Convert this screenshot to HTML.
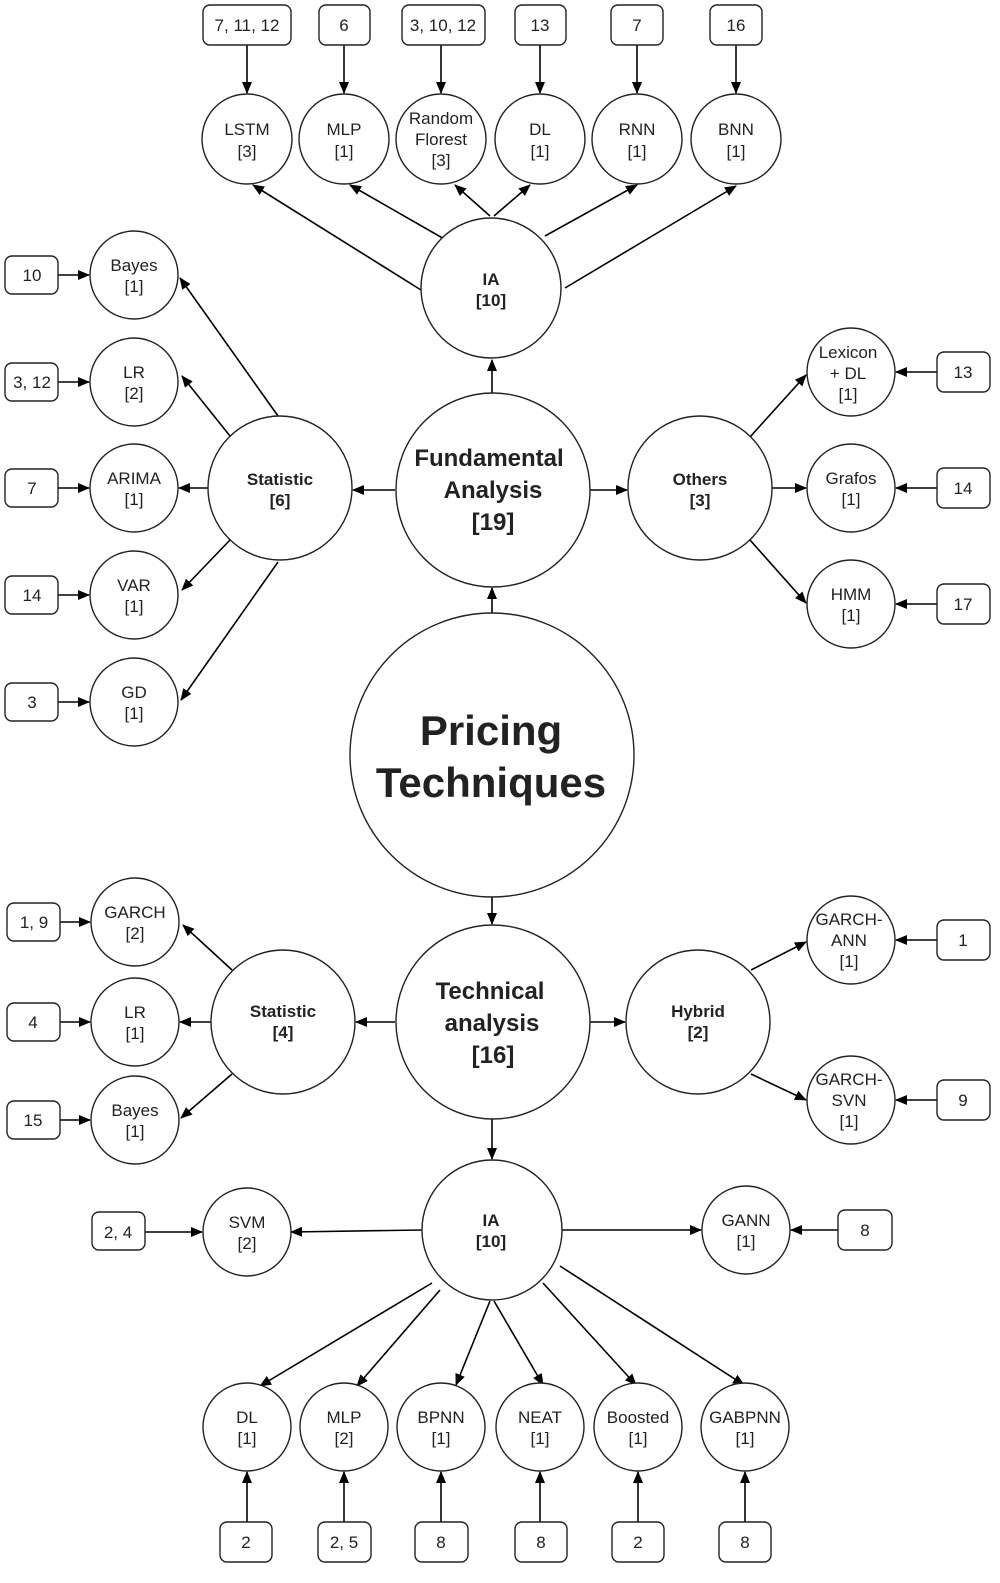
<!DOCTYPE html>
<html><head><meta charset="utf-8"><style>
html,body{margin:0;padding:0;background:#fff}
svg{display:block}
text{font-family:"Liberation Sans",sans-serif;fill:#222;text-anchor:middle}
.s{font-size:17px}
.b{font-size:17px;font-weight:bold}
</style></head><body>
<svg width="1000" height="1583" viewBox="0 0 1000 1583" xmlns="http://www.w3.org/2000/svg">
<defs><marker id="a" markerWidth="12" markerHeight="10" refX="11" refY="5" orient="auto" markerUnits="userSpaceOnUse"><path d="M0,0 L12,5 L0,10 Z" fill="#000"/></marker></defs>
<g stroke="#000" stroke-width="1.6" fill="none" marker-end="url(#a)">
<!-- top boxes to circles -->
<line x1="247" y1="45" x2="247" y2="93"/><line x1="344" y1="45" x2="344" y2="93"/><line x1="441" y1="45" x2="441" y2="93"/><line x1="540" y1="45" x2="540" y2="93"/><line x1="637" y1="45" x2="637" y2="93"/><line x1="736" y1="45" x2="736" y2="93"/>
<!-- IA top to circles -->
<line x1="421" y1="290" x2="253" y2="185"/><line x1="446" y1="240" x2="350" y2="185"/><line x1="490" y1="216" x2="455" y2="185"/><line x1="494" y1="216" x2="530" y2="185"/><line x1="545" y1="236" x2="637" y2="185"/><line x1="565" y1="288" x2="736" y2="186"/>
<line x1="492" y1="393" x2="492" y2="360"/>
<line x1="395" y1="490" x2="353" y2="490"/><line x1="590" y1="490" x2="627" y2="490"/>
<!-- left boxes -->
<line x1="58" y1="275" x2="89" y2="275"/><line x1="58" y1="382" x2="89" y2="382"/><line x1="58" y1="488" x2="89" y2="488"/><line x1="58" y1="595" x2="89" y2="595"/><line x1="58" y1="702" x2="89" y2="702"/>
<line x1="278" y1="416" x2="180" y2="278"/><line x1="230" y1="436" x2="182" y2="376"/><line x1="208" y1="488" x2="179" y2="488"/><line x1="230" y1="540" x2="182" y2="590"/><line x1="278" y1="562" x2="181" y2="700"/>
<!-- right others -->
<line x1="937" y1="372" x2="896" y2="372"/><line x1="937" y1="488" x2="896" y2="488"/><line x1="937" y1="604" x2="896" y2="604"/>
<line x1="750" y1="437" x2="806" y2="375"/><line x1="772" y1="488" x2="806" y2="488"/><line x1="750" y1="540" x2="806" y2="603"/>
<line x1="492" y1="613" x2="492" y2="588"/><line x1="492" y1="897" x2="492" y2="924"/>
<line x1="395" y1="1022" x2="356" y2="1022"/><line x1="590" y1="1022" x2="625" y2="1022"/>
<line x1="60" y1="922" x2="90" y2="922"/><line x1="60" y1="1022" x2="90" y2="1022"/><line x1="60" y1="1120" x2="90" y2="1120"/>
<line x1="232" y1="970" x2="183" y2="925"/><line x1="211" y1="1022" x2="180" y2="1022"/><line x1="232" y1="1074" x2="181" y2="1118"/>
<line x1="937" y1="940" x2="896" y2="940"/><line x1="937" y1="1100" x2="896" y2="1100"/>
<line x1="751" y1="970" x2="806" y2="942"/><line x1="751" y1="1074" x2="806" y2="1100"/>
<line x1="492" y1="1119" x2="492" y2="1159"/>
<line x1="422" y1="1230" x2="291" y2="1232"/><line x1="562" y1="1230" x2="701" y2="1230"/>
<line x1="145" y1="1232" x2="202" y2="1232"/><line x1="838" y1="1230" x2="791" y2="1230"/>
<line x1="432" y1="1283" x2="260" y2="1386"/><line x1="440" y1="1290" x2="357" y2="1386"/><line x1="490" y1="1301" x2="456" y2="1385"/><line x1="494" y1="1301" x2="543" y2="1385"/><line x1="543" y1="1283" x2="636" y2="1385"/><line x1="560" y1="1266" x2="744" y2="1385"/>
<line x1="247" y1="1522" x2="247" y2="1472"/><line x1="344" y1="1522" x2="344" y2="1472"/><line x1="441" y1="1522" x2="441" y2="1472"/><line x1="540" y1="1522" x2="540" y2="1472"/><line x1="638" y1="1522" x2="638" y2="1472"/><line x1="745" y1="1522" x2="745" y2="1472"/>
</g>
<g stroke="#222" stroke-width="1.4" fill="#fff">
<rect x="203" y="5" width="88" height="40" rx="7"/><rect x="319" y="5" width="51" height="40" rx="7"/><rect x="402" y="5" width="83" height="40" rx="7"/><rect x="515" y="5" width="51" height="40" rx="7"/><rect x="611" y="5" width="52" height="40" rx="7"/><rect x="710" y="5" width="52" height="40" rx="7"/>
<circle cx="247" cy="139" r="45"/><circle cx="344" cy="139" r="45"/><circle cx="441" cy="139" r="45"/><circle cx="540" cy="139" r="45"/><circle cx="637" cy="139" r="45"/><circle cx="736" cy="139" r="45"/>
<circle cx="491" cy="288" r="70"/>
<circle cx="493" cy="490" r="97"/>
<circle cx="280" cy="488" r="72"/><circle cx="700" cy="488" r="72"/>
<rect x="5" y="256" width="53" height="38" rx="7"/><rect x="5" y="363" width="53" height="38" rx="7"/><rect x="5" y="469" width="53" height="38" rx="7"/><rect x="5" y="576" width="53" height="38" rx="7"/><rect x="5" y="683" width="53" height="38" rx="7"/>
<circle cx="134" cy="275" r="44"/><circle cx="134" cy="382" r="44"/><circle cx="134" cy="488" r="44"/><circle cx="134" cy="595" r="44"/><circle cx="134" cy="702" r="44"/>
<circle cx="851" cy="372" r="44"/><circle cx="851" cy="488" r="44"/><circle cx="851" cy="604" r="44"/>
<rect x="937" y="352" width="53" height="40" rx="7"/><rect x="937" y="468" width="53" height="40" rx="7"/><rect x="937" y="584" width="53" height="40" rx="7"/>
<circle cx="492" cy="755" r="142"/>
<circle cx="493" cy="1022" r="97"/>
<circle cx="283" cy="1022" r="72"/><circle cx="698" cy="1022" r="72"/>
<circle cx="135" cy="922" r="44"/><circle cx="135" cy="1022" r="44"/><circle cx="135" cy="1120" r="44"/>
<rect x="7" y="903" width="53" height="38" rx="7"/><rect x="7" y="1003" width="53" height="38" rx="7"/><rect x="7" y="1101" width="53" height="38" rx="7"/>
<circle cx="851" cy="940" r="44"/><circle cx="851" cy="1100" r="44"/>
<rect x="937" y="920" width="53" height="40" rx="7"/><rect x="937" y="1080" width="53" height="40" rx="7"/>
<circle cx="492" cy="1230" r="70"/>
<circle cx="247" cy="1232" r="44"/><circle cx="746" cy="1230" r="44"/>
<rect x="92" y="1212" width="53" height="38" rx="7"/><rect x="838" y="1210" width="54" height="40" rx="7"/>
<circle cx="247" cy="1427" r="44"/><circle cx="344" cy="1427" r="44"/><circle cx="441" cy="1427" r="44"/><circle cx="540" cy="1427" r="44"/><circle cx="638" cy="1427" r="44"/><circle cx="745" cy="1427" r="44"/>
<rect x="220" y="1522" width="52" height="40" rx="7"/><rect x="318" y="1522" width="53" height="40" rx="7"/><rect x="415" y="1522" width="53" height="40" rx="7"/><rect x="515" y="1522" width="52" height="40" rx="7"/><rect x="612" y="1522" width="52" height="40" rx="7"/><rect x="719" y="1522" width="52" height="40" rx="7"/>
</g>
<g class="s">
<text x="247" y="31" class="s">7, 11, 12</text><text x="344" y="31" class="s">6</text><text x="443" y="31" class="s">3, 10, 12</text><text x="540" y="31" class="s">13</text><text x="637" y="31" class="s">7</text><text x="736" y="31" class="s">16</text>
<text x="247" y="135" class="s">LSTM</text><text x="247" y="157" class="s">[3]</text>
<text x="344" y="135" class="s">MLP</text><text x="344" y="157" class="s">[1]</text>
<text x="441" y="124" class="s">Random</text><text x="441" y="145" class="s">Florest</text><text x="441" y="166" class="s">[3]</text>
<text x="540" y="135" class="s">DL</text><text x="540" y="157" class="s">[1]</text>
<text x="637" y="135" class="s">RNN</text><text x="637" y="157" class="s">[1]</text>
<text x="736" y="135" class="s">BNN</text><text x="736" y="157" class="s">[1]</text>
<text x="491" y="285" class="b">IA</text><text x="491" y="306" class="b">[10]</text>
<text x="489" y="466" style="font-size:24px;font-weight:bold">Fundamental</text><text x="493" y="498" style="font-size:24px;font-weight:bold">Analysis</text><text x="493" y="530" style="font-size:24px;font-weight:bold">[19]</text>
<text x="280" y="485" class="b">Statistic</text><text x="280" y="506" class="b">[6]</text>
<text x="700" y="485" class="b">Others</text><text x="700" y="506" class="b">[3]</text>
<text x="32" y="281" class="s">10</text><text x="32" y="388" class="s">3, 12</text><text x="32" y="494" class="s">7</text><text x="32" y="601" class="s">14</text><text x="32" y="708" class="s">3</text>
<text x="134" y="271" class="s">Bayes</text><text x="134" y="292" class="s">[1]</text>
<text x="134" y="378" class="s">LR</text><text x="134" y="399" class="s">[2]</text>
<text x="134" y="484" class="s">ARIMA</text><text x="134" y="505" class="s">[1]</text>
<text x="134" y="591" class="s">VAR</text><text x="134" y="612" class="s">[1]</text>
<text x="134" y="698" class="s">GD</text><text x="134" y="719" class="s">[1]</text>
<text x="848" y="358" class="s">Lexicon</text><text x="848" y="379" class="s">+ DL</text><text x="848" y="400" class="s">[1]</text>
<text x="851" y="484" class="s">Grafos</text><text x="851" y="505" class="s">[1]</text>
<text x="851" y="600" class="s">HMM</text><text x="851" y="621" class="s">[1]</text>
<text x="963" y="378" class="s">13</text><text x="963" y="494" class="s">14</text><text x="963" y="610" class="s">17</text>
<text x="491" y="745" style="font-size:42px;font-weight:bold">Pricing</text><text x="491" y="797" style="font-size:42px;font-weight:bold">Techniques</text>
<text x="490" y="999" style="font-size:24px;font-weight:bold">Technical</text><text x="492" y="1031" style="font-size:24px;font-weight:bold">analysis</text><text x="493" y="1063" style="font-size:24px;font-weight:bold">[16]</text>
<text x="283" y="1017" class="b">Statistic</text><text x="283" y="1038" class="b">[4]</text>
<text x="698" y="1017" class="b">Hybrid</text><text x="698" y="1038" class="b">[2]</text>
<text x="135" y="918" class="s">GARCH</text><text x="135" y="939" class="s">[2]</text>
<text x="135" y="1018" class="s">LR</text><text x="135" y="1039" class="s">[1]</text>
<text x="135" y="1116" class="s">Bayes</text><text x="135" y="1137" class="s">[1]</text>
<text x="34" y="928" class="s">1, 9</text><text x="33" y="1028" class="s">4</text><text x="33" y="1126" class="s">15</text>
<text x="849" y="925" class="s">GARCH-</text><text x="849" y="946" class="s">ANN</text><text x="849" y="967" class="s">[1]</text>
<text x="849" y="1085" class="s">GARCH-</text><text x="849" y="1106" class="s">SVN</text><text x="849" y="1127" class="s">[1]</text>
<text x="963" y="946" class="s">1</text><text x="963" y="1106" class="s">9</text>
<text x="491" y="1226" class="b">IA</text><text x="491" y="1247" class="b">[10]</text>
<text x="247" y="1228" class="s">SVM</text><text x="247" y="1249" class="s">[2]</text>
<text x="746" y="1226" class="s">GANN</text><text x="746" y="1247" class="s">[1]</text>
<text x="118" y="1238" class="s">2, 4</text><text x="865" y="1236" class="s">8</text>
<text x="247" y="1423" class="s">DL</text><text x="247" y="1444" class="s">[1]</text>
<text x="344" y="1423" class="s">MLP</text><text x="344" y="1444" class="s">[2]</text>
<text x="441" y="1423" class="s">BPNN</text><text x="441" y="1444" class="s">[1]</text>
<text x="540" y="1423" class="s">NEAT</text><text x="540" y="1444" class="s">[1]</text>
<text x="638" y="1423" class="s">Boosted</text><text x="638" y="1444" class="s">[1]</text>
<text x="745" y="1423" class="s">GABPNN</text><text x="745" y="1444" class="s">[1]</text>
<text x="246" y="1548" class="s">2</text><text x="344" y="1548" class="s">2, 5</text><text x="441" y="1548" class="s">8</text><text x="541" y="1548" class="s">8</text><text x="638" y="1548" class="s">2</text><text x="745" y="1548" class="s">8</text>
</g>
</svg>
</body></html>
